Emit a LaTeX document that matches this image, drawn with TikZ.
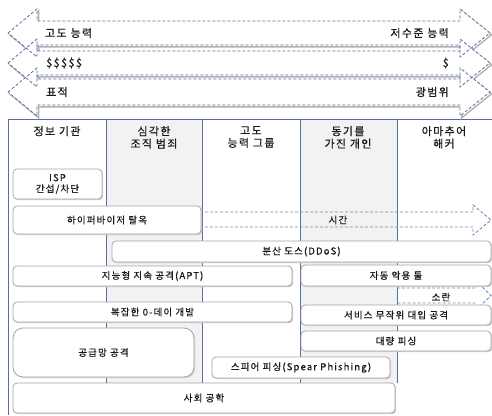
\documentclass[tikz,border=0pt]{standalone}
\usepackage{fontspec}
\setmainfont{Noto Sans CJK KR}[LetterSpace=12, FakeBold=0.6]
\definecolor{colline}{RGB}{85,112,160}
\definecolor{colshade}{RGB}{242,242,242}
\definecolor{boxline}{RGB}{165,165,165}
\definecolor{dashcol}{RGB}{115,138,178}
\definecolor{txt}{RGB}{25,25,25}
\tikzset{
  box/.style={draw=boxline, line width=0.8pt, fill=white, rounded corners=4pt,
    inner sep=0pt, font=\fontsize{9.5}{11}\selectfont, text=txt, align=center},
  boxshadow/.style={fill=black!18, rounded corners=4pt},
  hdr/.style={anchor=north, inner sep=0pt, font=\fontsize{11}{12.5}\selectfont, text=txt, align=center},
  toplbl/.style={inner sep=0pt, font=\fontsize{11}{12}\selectfont, text=txt},
  colrule/.style={draw=colline, line width=0.9pt},
  dasharrow/.style={draw=dashcol, dash pattern=on 3pt off 2pt, line width=0.9pt},
  arrshadow/.style={draw=black!30, line width=1.4pt},
  arroutline/.style={draw=colline, dash pattern=on 3pt off 2pt, line width=0.8pt}
}
\newcommand{\bigarrow}[3]{% #1 center y, #2 half body, #3 half head
  (8,#1) -- (37,#1-#3) -- (37,#1-#2) -- (460,#1-#2) -- (460,#1-#3) -- (490,#1)
  -- (460,#1+#3) -- (460,#1+#2) -- (37,#1+#2) -- (37,#1+#3) -- cycle}
\newcommand{\mkbox}[6]{% name, x1, y1, x2, y2, text
  \fill[boxshadow] (#2+1.2,#3+1.2) rectangle (#4+1.2,#5+1.2);
  \node[box, minimum width=#4-#2, minimum height=#5-#3] (#1) at ({(#2+#4)/2},{(#3+#5)/2}) {#6};}
\begin{document}
\begin{tikzpicture}[x=1pt, y=-1pt]
\useasboundingbox (0,0) rectangle (492,415);
% table shading and rules
\fill[colshade] (106,119) rectangle (202,383);
\fill[colshade] (300,119) rectangle (397,383);
\foreach \xx in {106,202,300,397} {\draw[colrule] (\xx,119) -- (\xx,383);}
\coordinate (tl) at (8,119);
\coordinate (tr) at (492,119);
\coordinate (bl) at (8,415);
\draw[colrule] (tr) -- (tl) -- (bl);
% headers
\node[hdr] (h1) at (57,126) {정보 기관};
\node[hdr] (h2) at (154,126) {심각한\\조직 범죄};
\node[hdr] (h3) at (251,126) {고도\\능력 그룹};
\node[hdr] (h4) at (348,126) {동기를\\가진 개인};
\node[hdr] (h5) at (444,126) {아마추어\\해커};
% dashed arrows
\draw[dasharrow] (195,212) -- (473,212) -- (473,205) -- (491,220) -- (473,235) -- (473,227) -- (195,227);
\node[inner sep=0pt, font=\fontsize{9.5}{11}\selectfont, text=txt] (tm) at (338,220) {시간};
\draw[dasharrow] (397,288) -- (476,288) -- (476,281) -- (491,295.5) -- (476,310) -- (476,303) -- (397,303);
\node[inner sep=0pt, font=\fontsize{9.5}{11}\selectfont, text=txt] (sr) at (441,297) {소란};
% boxes
\mkbox{isp}{13}{169}{102}{199}{ISP\\간섭/차단}
\mkbox{hyp}{13}{206}{201}{234}{하이퍼바이저 탈옥}
\mkbox{ddos}{112}{241}{491}{262}{분산 도스(DDoS)}
\mkbox{apt}{13}{266}{292}{286}{지능형 지속 공격(APT)}
\mkbox{auto}{301}{265}{491}{286}{자동 악용 툴}
\mkbox{zday}{13}{302}{292}{322}{복잡한 0-데이 개발}
\mkbox{brute}{301}{305}{491}{325}{서비스 무작위 대입 공격}
\mkbox{mass}{301}{331}{491}{351}{대량 피싱}
\fill[boxshadow, rounded corners=10pt] (14.2,329.2) rectangle (195.2,378.2);
\node[box, rounded corners=10pt, minimum width=181, minimum height=49] (sup) at (103.5,352.5) {공급망 공격};
\mkbox{spear}{212}{357}{390}{378}{스피어 피싱(Spear Phishing)}
\mkbox{soc}{13}{383}{395}{413}{사회 공학}
% top block arrows
\foreach \cy/\hb in {33/12, 63/12, 92/13} {
  \draw[arrshadow, shift={(1.6,1.8)}] \bigarrow{\cy}{\hb}{24};
}
\foreach \cy/\hb in {33/12, 63/12, 92/13} {
  \fill[white] \bigarrow{\cy}{\hb}{24};
}
\foreach \cy/\hb in {33/12, 63/12, 92/13} {
  \draw[arroutline] \bigarrow{\cy}{\hb}{24};
}
\node[toplbl, anchor=west] (a1l) at (45,33) {고도 능력};
\node[toplbl, anchor=east] (a1r) at (449,33) {저수준 능력};
\node[toplbl, anchor=west] (a2l) at (46,63) {\$\$\$\$\$};
\node[toplbl, anchor=east] (a2r) at (449,63) {\$};
\node[toplbl, anchor=west] (a3l) at (46,92) {표적};
\node[toplbl, anchor=east] (a3r) at (449,92) {광범위};
\end{tikzpicture}
\end{document}
